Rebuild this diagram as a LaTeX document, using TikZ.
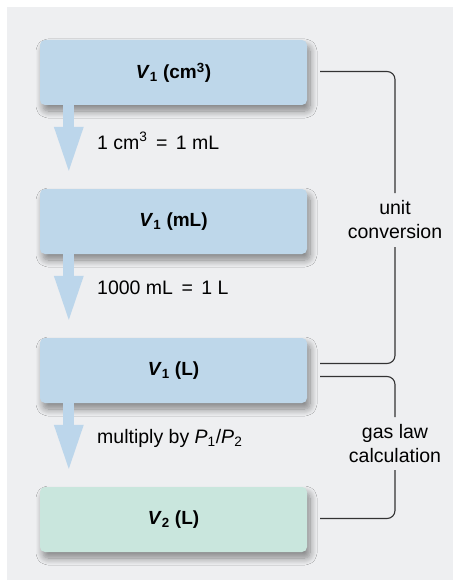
\documentclass[tikz,border=0pt]{standalone}
\usepackage{fontspec}
\setmainfont{Liberation Sans}
\usetikzlibrary{arrows.meta,shadows.blur,calc}
\definecolor{panel}{HTML}{EEEFF1}
\definecolor{boxblue}{HTML}{BED7EA}
\definecolor{boxgreen}{HTML}{C9E6DD}
\definecolor{arrowblue}{HTML}{BCD6EB}
\definecolor{linegray}{HTML}{333333}
\newcommand{\wideeq}{\hspace{8.5pt}=\hspace{8.5pt}}
\tikzset{
  x=1pt, y=-1pt,
  stepbox/.style={rounded corners=5pt, minimum width=267pt, minimum height=65pt,
    inner sep=0pt, font=\fontsize{19}{24}\selectfont\bfseries,
    blur shadow={shadow xshift=3pt, shadow yshift=-6pt, shadow blur radius=7pt,
      shadow opacity=45, shadow blur steps=10}},
  bluebox/.style={stepbox, fill=boxblue},
  greenbox/.style={stepbox, fill=boxgreen},
  fatarrow/.style={draw=arrowblue, line width=11pt,
    -{Triangle[width=26pt,length=48pt]}, shorten >=14pt},
  steplabel/.style={anchor=west, inner sep=0pt, font=\fontsize{19.5}{24}\selectfont},
  sidelabel/.style={align=center, inner sep=0pt, font=\fontsize{19.5}{24}\selectfont},
  bracket/.style={draw=linegray, line width=1.1pt, rounded corners=8pt},
}
\begin{document}
\begin{tikzpicture}
\useasboundingbox (0,0) rectangle (453,580);
\fill[white] (0,0) rectangle (453,580);
\fill[panel] (7,7) rectangle (453,580);

\node[bluebox] (b1) at (173.5,72.5) {\textit{V}\textsubscript{1} (cm\textsuperscript{3})};
\node[bluebox] (b2) at (173.5,221.5) {\textit{V}\textsubscript{1} (mL)};
\node[bluebox] (b3) at (173.5,370.5) {\textit{V}\textsubscript{1} (L)};
\node[greenbox] (b4) at (173.5,519.5) {\textit{V}\textsubscript{2} (L)};

% fat arrows
\draw[fatarrow] ($(b1.south west)+(29,0)$) -- ($(b2.north west)+(29,0)$);
\draw[fatarrow] ($(b2.south west)+(29,0)$) -- ($(b3.north west)+(29,0)$);
\draw[fatarrow] ($(b3.south west)+(29,0)$) -- ($(b4.north west)+(29,0)$);

\node[steplabel] (l1) at (97,141) {1 cm\textsuperscript{3}\wideeq1 mL};
\node[steplabel] (l2) at (97,288) {1000 mL\wideeq1 L};
\node[steplabel] (l3) at (97,438) {multiply by \textit{P}\textsubscript{1}/\textit{P}\textsubscript{2}};

% side labels
\node[sidelabel] (uc) at (395,220) {unit\\conversion};
\node[sidelabel] (gl) at (395,444) {gas law\\calculation};

\coordinate (uctop) at (395,193);
\coordinate (ucbot) at (395,247);
\coordinate (gltop) at (395,417);
\coordinate (glbot) at (395,470);

\draw[bracket] ([xshift=13pt,yshift=1pt]b1.east) -| (uctop);
\draw[bracket] (ucbot) |- ([xshift=13pt,yshift=7pt]b3.east);
\draw[bracket] ([xshift=13pt,yshift=-6pt]b3.east) -| (gltop);
\draw[bracket] (glbot) |- ([xshift=13pt,yshift=1pt]b4.east);
\end{tikzpicture}
\end{document}
